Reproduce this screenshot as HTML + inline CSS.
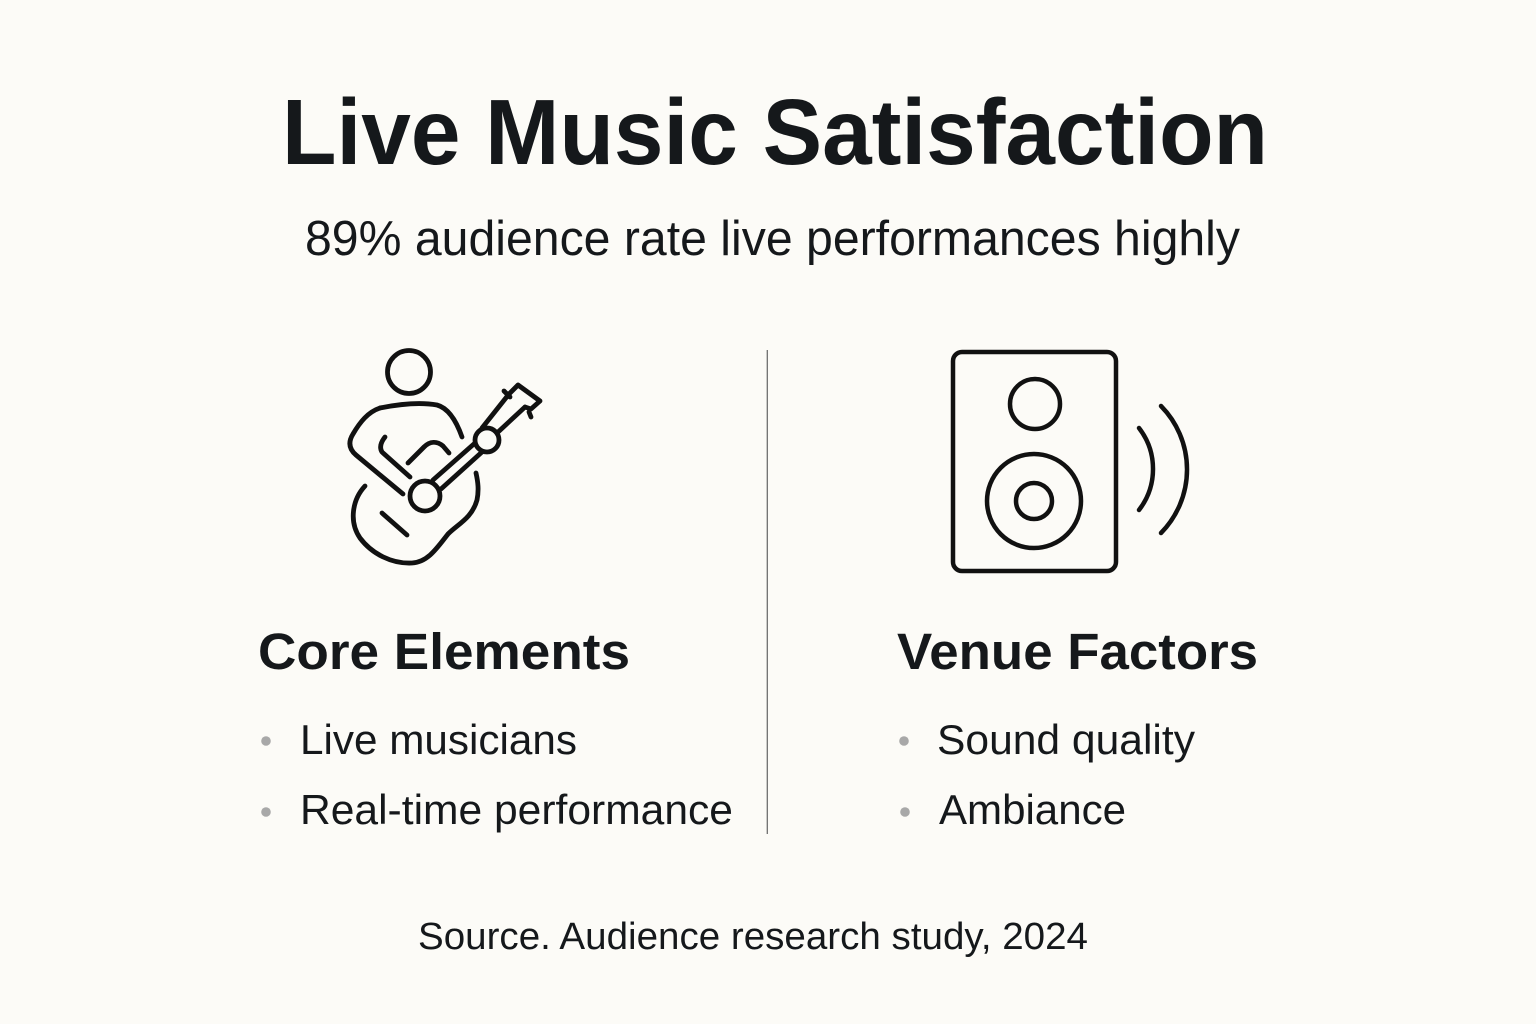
<!DOCTYPE html>
<html>
<head>
<meta charset="utf-8">
<style>
html,body{margin:0;padding:0;background:#fcfbf7;}
svg{display:block;}
</style>
</head>
<body>
<svg width="1536" height="1024" viewBox="0 0 1536 1024" xmlns="http://www.w3.org/2000/svg">
<rect width="1536" height="1024" fill="#fcfbf7"/>
<g font-family="Liberation Sans, Arial, sans-serif" fill="#15181b">
<text x="282" y="164" font-size="93" font-weight="bold" textLength="986" lengthAdjust="spacingAndGlyphs">Live Music Satisfaction</text>
<text x="305" y="255" font-size="49" textLength="935" lengthAdjust="spacingAndGlyphs">89% audience rate live performances highly</text>
<text x="258" y="669" font-size="51" font-weight="bold" textLength="372" lengthAdjust="spacingAndGlyphs">Core Elements</text>
<text x="897" y="669" font-size="51" font-weight="bold" textLength="361" lengthAdjust="spacingAndGlyphs">Venue Factors</text>
<text x="300" y="754" font-size="42" textLength="277" lengthAdjust="spacingAndGlyphs">Live musicians</text>
<text x="300" y="824" font-size="42" textLength="433" lengthAdjust="spacingAndGlyphs">Real-time performance</text>
<text x="937" y="754" font-size="42" textLength="258" lengthAdjust="spacingAndGlyphs">Sound quality</text>
<text x="939" y="824" font-size="42" textLength="187" lengthAdjust="spacingAndGlyphs">Ambiance</text>
<text x="418" y="949" font-size="38" textLength="670" lengthAdjust="spacingAndGlyphs">Source. Audience research study, 2024</text>
</g>
<g fill="#a8a8a8">
<circle cx="266" cy="741" r="4.8"/>
<circle cx="266" cy="812" r="4.8"/>
<circle cx="904" cy="741" r="4.8"/>
<circle cx="905" cy="812" r="4.8"/>
</g>
<line x1="767.3" y1="350" x2="767.3" y2="834" stroke="#6e6e6e" stroke-width="1.3"/>

<!-- Guitar player icon -->
<g fill="none" stroke="#111" stroke-width="4.8" stroke-linecap="round" stroke-linejoin="round">
<circle cx="409" cy="372" r="21.5"/>
<path d="M380,408 C400,404 420,402 437,405 C448,408 456,420 462,437"/>
<path d="M380,408 C368,412 360,422 353,434 C348,442 349,449 356,455 L403,494"/>
<path d="M385,437 C381,442 379,447 382,452 L410,477"/>
<path d="M408,463 L424,447 C430,441 437,441 443,446 L449,453"/>
<path d="M365,486 C352,500 349,522 360,538 C372,554 392,564 412,563 C428,562 437,548 448,534 C458,524 472,518 477,500 C479,490 478,482 476,473"/>
<path d="M382,513 L407,535"/>
<circle cx="425" cy="496" r="15"/>
<path d="M433,480 L475,443"/>
<path d="M441,489 L482,452"/>
<circle cx="487" cy="440" r="12"/>
<path d="M482,428 L509,394"/>
<path d="M497,433 L525,407"/>
<path d="M509,394 L518,385 L540,401 L531,409 L525,407"/>
<path d="M504,391 L510,397"/>
<path d="M529,412 L531,417"/>
</g>

<!-- Speaker icon -->
<g fill="none" stroke="#111" stroke-width="4.5" stroke-linecap="round">
<rect x="953" y="352" width="163" height="219" rx="9"/>
<circle cx="1035" cy="404" r="25"/>
<circle cx="1034" cy="501" r="47"/>
<circle cx="1034" cy="501" r="18"/>
<path d="M1139,428 A67,67 0 0 1 1139,510"/>
<path d="M1161,406 A90.5,90.5 0 0 1 1161,533"/>
</g>
</svg>
</body>
</html>
